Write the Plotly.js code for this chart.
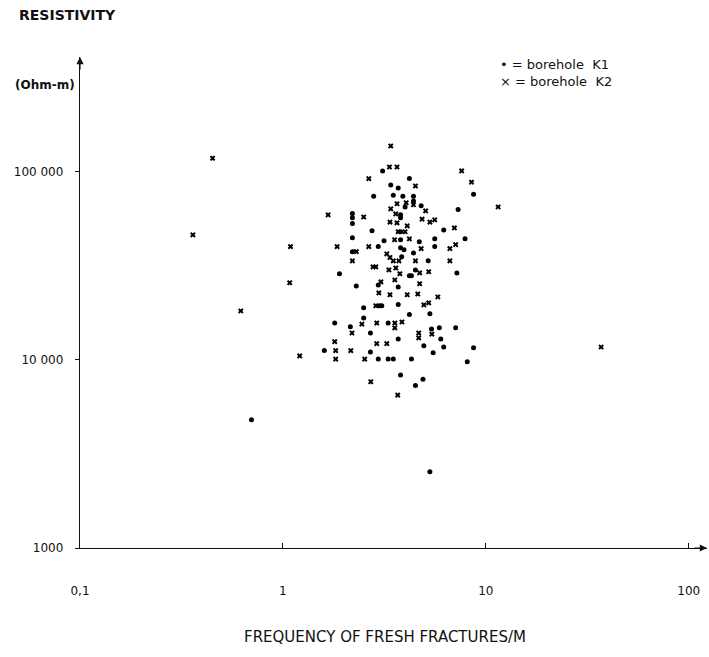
<!DOCTYPE html>
<html>
<head>
<meta charset="utf-8">
<script src="https://cdn.plot.ly/plotly-3.0.1.min.js"></script>
<style>
html,body{margin:0;padding:0;background:#fff;}
#chart{width:709px;height:657px;}
</style>
</head>
<body>
<div id="chart"></div>
<script>
// Borehole K1 (dots): fracture frequency (1/m) and resistivity (Ohm-m)
var k1x = [3.1,4.2,8.7,3.4,3.7,3.5,2.8,3.9,4.4,4.4,4.0,4.8,7.3,2.2,2.2,2.2,3.8,3.8,6.2,2.75,2.2,3.15,3.8,4.7,5.6,7.9,2.2,2.95,3.8,3.95,4.4,5.6,5.2,4.2,4.3,4.5,7.2,1.9,2.3,2.95,3.7,2.5,3.0,3.07,3.7,4.2,5.3,2.5,1.8,2.15,3.3,2.7,5.4,5.9,7.1,3.7,6.0,4.95,6.2,1.6,2.7,5.5,8.7,2.95,3.3,3.5,4.3,8.1,3.8,4.9,4.5,0.70,5.3,3.8,3.85];
var k1y = [101000,92000,76000,85000,82000,75000,74000,74000,74000,70000,65000,66000,63000,60000,57000,53000,59000,57000,49000,48500,44600,43000,43500,42400,44000,44000,37600,40000,39400,38500,37000,40000,33600,28000,28000,30000,29000,28700,24700,25000,24400,18900,19400,19400,19700,17400,17600,16700,15700,15000,15700,13900,14600,14800,14800,12900,12900,11900,11700,11200,11000,10900,11600,10100,10100,10100,10100,9760,8300,7900,7300,4800,2540,48000,35300];
// Borehole K2 (crosses)
var k2x = [3.4,3.35,3.65,2.65,7.6,8.5,4.5,3.65,4.05,4.4,3.4,5.05,1.67,2.5,3.6,3.37,3.65,4.1,4.85,5.3,5.6,7.0,3.7,4.0,3.55,4.2,1.85,2.3,2.65,3.25,4.8,6.65,7.1,2.2,3.37,3.5,3.73,4.5,6.65,2.78,2.87,3.33,3.6,3.77,4.72,5.23,3.04,3.56,4.72,2.97,3.37,4.1,4.62,5.8,2.87,4.95,5.23,2.19,2.45,2.9,3.56,3.86,3.56,4.67,4.67,5.42,1.8,2.9,3.25,1.82,2.16,1.82,2.53,2.71,3.68,0.45,0.36,1.09,1.08,0.62,1.21,37,11.5];
var k2y = [137000,106000,106000,92000,101000,88000,84000,67600,68400,66800,63500,62000,59000,57500,59700,54000,53500,51600,56000,54000,55500,50300,48000,48000,43500,44000,40000,37600,40000,36600,39000,39000,41000,33600,35000,33600,33600,33600,33600,31200,31200,30100,30800,28700,29000,29400,26000,26600,25400,22700,22200,22200,22400,21600,19400,19600,20100,13900,15500,15700,15700,15900,14800,13900,13100,13700,12500,12200,12200,11200,11200,10100,10100,7650,6500,118000,46200,40000,25700,18200,10500,11700,65000];

var xTickVals = [0.1, 1, 10, 100];
var xTickText = ['0,1', '1', '10', '100'];
var yTickVals = [1000, 10000, 100000];
var yTickText = ['1000', '10 000', '100 000'];

var FONT = 'DejaVu Sans, Arial, sans-serif';

var traces = [
  {x: k1x, y: k1y, type: 'scatter', mode: 'markers', name: 'borehole K1',
   marker: {symbol: 'circle', size: 5, color: '#000'}, showlegend: false, hoverinfo: 'x+y'},
  {x: k2x, y: k2y, type: 'scatter', mode: 'markers', name: 'borehole K2',
   marker: {symbol: 'x', size: 5, color: '#000', line: {width: 0}}, showlegend: false, hoverinfo: 'x+y'}
];

var layout = {
  width: 709, height: 657,
  margin: {l: 80, r: 2, t: 57, b: 109},
  paper_bgcolor: '#fff', plot_bgcolor: '#fff',
  font: {family: FONT, size: 12, color: '#111'},
  xaxis: {
    type: 'log', range: [-1, 2.09],
    showgrid: false, zeroline: false, showline: true, linecolor: '#111', linewidth: 1.2,
    ticks: 'inside', ticklen: 5, tickcolor: '#111', tickwidth: 1,
    tickvals: xTickVals, ticktext: xTickText,
    tickfont: {family: FONT, size: 12, color: '#111'},
    ticklabelstandoff: 31
  },
  yaxis: {
    type: 'log', range: [3, 5.61],
    showgrid: false, zeroline: false, showline: true, linecolor: '#111', linewidth: 1.2,
    ticks: 'outside', ticklen: 4, tickcolor: '#111', tickwidth: 1,
    tickvals: yTickVals, ticktext: yTickText,
    tickfont: {family: FONT, size: 12, color: '#111'},
    ticklabelstandoff: 9
  },
  annotations: [
    {xref: 'paper', yref: 'paper', x: -0.1005, y: 1.0855, xanchor: 'left', yanchor: 'middle',
     text: 'RESISTIVITY', showarrow: false, font: {family: FONT, size: 14, weight: 'bold', color: '#111'}},
    {xref: 'paper', yref: 'paper', x: -0.107, y: 0.943, xanchor: 'left', yanchor: 'middle',
     text: '(Ohm-m)', showarrow: false, font: {family: FONT, size: 12, weight: 'bold', color: '#111'}},
    {xref: 'paper', yref: 'paper', x: 0.6667, y: 0.9857, xanchor: 'left', yanchor: 'middle',
     text: '\u2022 = borehole  K1', showarrow: false, font: {family: FONT, size: 13, color: '#111'}},
    {xref: 'paper', yref: 'paper', x: 0.6667, y: 0.951, xanchor: 'left', yanchor: 'middle',
     text: '\u00d7 = borehole  K2', showarrow: false, font: {family: FONT, size: 13, color: '#111'}},
    {xref: 'paper', yref: 'paper', x: 0.4864, y: -0.1813, xanchor: 'center', yanchor: 'middle',
     text: 'FREQUENCY OF FRESH FRACTURES/M', showarrow: false, font: {family: FONT, size: 15, color: '#111'}},
    {xref: 'paper', yref: 'paper', x: 0, y: 1, ax: 0, ay: 14, text: '', showarrow: true,
     arrowhead: 2, arrowsize: 1.2, arrowwidth: 1.2, arrowcolor: '#111'},
    {xref: 'paper', yref: 'paper', x: 1, y: 0, ax: -14, ay: 0, text: '', showarrow: true,
     arrowhead: 2, arrowsize: 1.2, arrowwidth: 1.2, arrowcolor: '#111'}
  ]
};

Plotly.newPlot('chart', traces, layout, {displayModeBar: false, staticPlot: true});
</script>
</body>
</html>
